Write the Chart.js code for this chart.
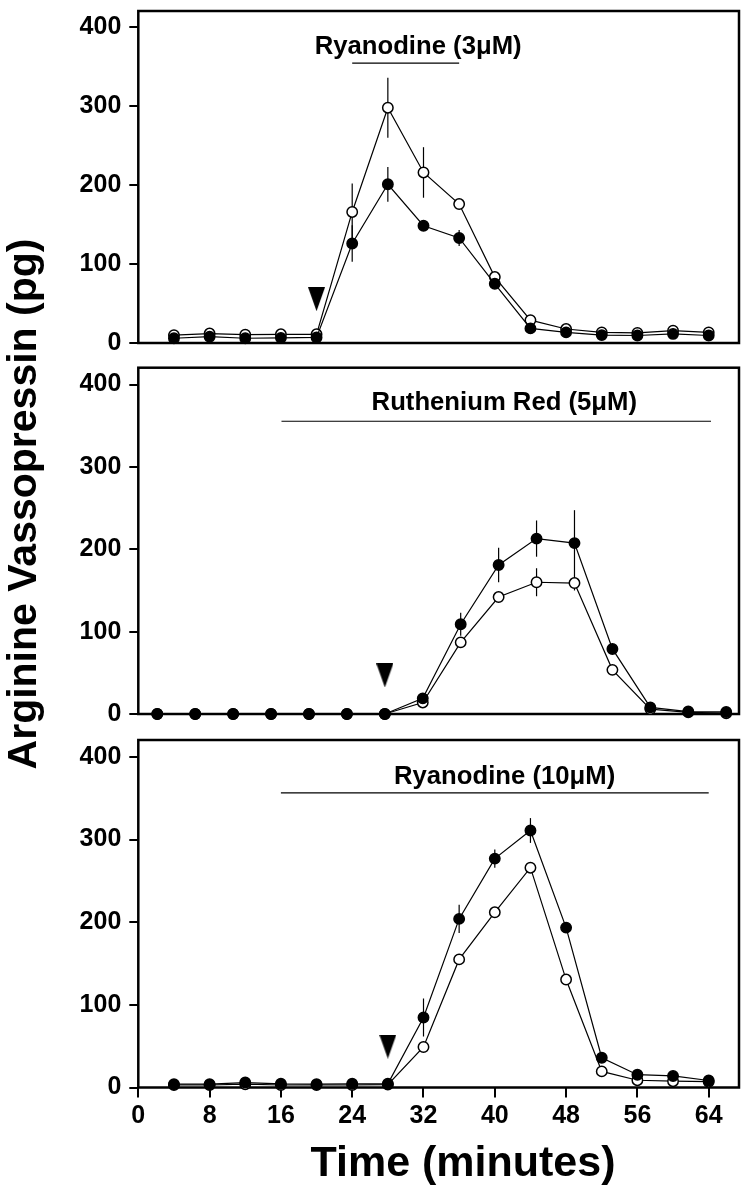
<!DOCTYPE html>
<html>
<head>
<meta charset="utf-8">
<script src="https://cdn.jsdelivr.net/npm/chart.js@4.4.1/dist/chart.umd.min.js"></script>
<style>
html,body{margin:0;padding:0;background:#fff;}
body{width:750px;height:1189px;position:relative;overflow:hidden;font-family:'Liberation Sans',Arial,sans-serif;}
canvas{position:absolute;left:0;}
.ytitle{position:absolute;width:700px;height:42px;line-height:42px;left:-328.1px;top:483px;text-align:center;font-weight:bold;font-size:41px;transform:rotate(-90deg);transform-origin:50% 50%;white-space:nowrap;color:#000;}
.xtitle{position:absolute;left:163px;width:600px;top:1140px;height:43px;line-height:43px;text-align:center;font-weight:bold;font-size:43px;white-space:nowrap;color:#000;}
</style>
</head>
<body>
<canvas id="c1" width="750" height="360" style="top:0px;width:750px;height:360px;"></canvas>
<canvas id="c2" width="750" height="370" style="top:355px;width:750px;height:370px;"></canvas>
<canvas id="c3" width="750" height="464" style="top:725px;width:750px;height:464px;"></canvas>
<div class="ytitle">Arginine Vassopressin (pg)</div>
<div class="xtitle">Time (minutes)</div>
<script>
// ---------- data ----------
const yTicks = [0, 100, 200, 300, 400];
const xTicks = [0, 8, 16, 24, 32, 40, 48, 56, 64];

// Panel 1 : Ryanodine (3 uM)
const times1 = [4, 8, 12, 16, 20, 24, 28, 32, 36, 40, 44, 48, 52, 56, 60, 64];
const closed1 = [6, 8, 6, 6.5, 7, 126, 201, 148.5, 133, 75, 18.5, 13.5, 10, 9.5, 11.5, 9.5];
const open1 = [10, 12, 10.5, 11, 11, 166, 298, 216, 176, 83.5, 29, 17.7, 13.5, 12.7, 15.6, 13.5];
const closedErr1 = [0, 0, 0, 0, 0, 23, 22, 0, 10, 0, 0, 0, 0, 0, 0, 0];
const openErr1 = [0, 0, 0, 0, 0, 36, 38, 32, 0, 0, 0, 0, 0, 0, 0, 0];

// Panel 2 : Ruthenium Red (5 uM)
const times2 = [2, 6, 10, 14, 18, 22, 26, 30, 34, 38, 42, 46, 50, 54, 58, 62];
const closed2 = [0, 0, 0, 0, 0, 0, 0, 19, 109, 181, 213, 207.5, 79, 8, 3, 2.5];
const open2 = [0, 0, 0, 0, 0, 0, 0, 14, 87, 142, 160, 159, 53.6, 6, 2, 1];
const closedErr2 = [0, 0, 0, 0, 0, 0, 0, 0, 14, 21, 22, 40, 0, 0, 0, 0];
const openErr2 = [0, 0, 0, 0, 0, 0, 0, 0, 0, 0, 17, 9, 0, 0, 0, 0];

// Panel 3 : Ryanodine (10 uM)
const times3 = [4, 8, 12, 16, 20, 24, 28, 32, 36, 40, 44, 48, 52, 56, 60, 64];
const closed3 = [4, 4, 6, 4.5, 4, 4.5, 4.5, 84.7, 204, 277, 311, 193.5, 36, 15.5, 14, 8.5];
const open3 = [3, 3, 4, 3, 3, 3, 3.5, 49, 155, 212, 266, 130.6, 19.5, 8.8, 7.6, 7];
const closedErr3 = [0, 0, 0, 0, 0, 0, 0, 23, 17, 11, 15, 0, 0, 0, 0, 0];
const openErr3 = [0, 0, 0, 0, 0, 0, 0, 0, 0, 0, 0, 0, 0, 0, 0, 0];

// Stimulus arrowheads (time, level)
const arrowTimes = [20, 26, 28];
const arrowLevels = [55.5, 46.8, 49.4];

// Treatment bars and labels
const treatLabels = ['Ryanodine (3μM)', 'Ruthenium Red (5μM)', 'Ryanodine (10μM)'];
const treatStart = [24, 15.1, 16];
const treatEnd = [36, 60.4, 64];
const treatLevel = [354.5, 355.5, 356.5];
const labelTimes = [31.4, 38.6, 41.1];
const labelLevels = [365.7, 369.7, 367.8];

// ---------- drawing ----------
const FONT = "'Liberation Sans', Arial, sans-serif";

function makeTriangle() {
  const c = document.createElement('canvas');
  c.width = 17; c.height = 24;
  const g = c.getContext('2d');
  g.fillStyle = '#000';
  g.beginPath(); g.moveTo(0, 0); g.lineTo(17, 0); g.lineTo(8.5, 24); g.closePath(); g.fill();
  return c;
}
const tri = makeTriangle();

const decor = {
  id: 'decor',
  beforeDatasetsDraw(chart) {
    const ctx = chart.ctx, xs = chart.scales.x, ys = chart.scales.y;
    ctx.save();
    ctx.strokeStyle = '#000';
    ctx.lineWidth = 1.2;
    chart.data.datasets.forEach(ds => {
      if (!ds.errorBars) return;
      ds.data.forEach((p, i) => {
        const e = ds.errorBars[i];
        if (!e) return;
        const x = xs.getPixelForValue(p.x);
        ctx.beginPath();
        ctx.moveTo(x, ys.getPixelForValue(p.y + e));
        ctx.lineTo(x, ys.getPixelForValue(p.y - e));
        ctx.stroke();
      });
    });
    const a = chart.chartArea;
    ctx.lineWidth = 2.5;
    ctx.strokeRect(a.left, a.top, a.right - a.left, a.bottom - a.top);
    ctx.restore();
  },
  afterDraw(chart, args, opts) {
    const ctx = chart.ctx, xs = chart.scales.x, ys = chart.scales.y;
    ctx.save();
    ctx.strokeStyle = '#000';
    ctx.lineWidth = 1.1;
    const yb = ys.getPixelForValue(opts.barLevel);
    ctx.beginPath();
    ctx.moveTo(xs.getPixelForValue(opts.barStart), yb);
    ctx.lineTo(xs.getPixelForValue(opts.barEnd), yb);
    ctx.stroke();
    ctx.fillStyle = '#000';
    ctx.font = 'bold 25.7px ' + FONT;
    ctx.textAlign = 'center';
    ctx.textBaseline = 'alphabetic';
    ctx.fillText(opts.label, xs.getPixelForValue(opts.labelTime), ys.getPixelForValue(opts.labelLevel));
    ctx.restore();
  }
};

function pts(t, v) { return t.map((x, i) => ({ x: x, y: v[i] })); }

function makePanel(id, k, cfg) {
  const tickFont = { family: FONT, size: 25, weight: 'bold' };
  new Chart(document.getElementById(id), {
    type: 'line',
    data: {
      datasets: [
        {
          data: pts(cfg.times, cfg.closed), errorBars: cfg.closedErr,
          borderColor: '#000', borderWidth: 1.2, tension: 0, clip: false,
          pointRadius: 5.2, pointBorderWidth: 1.5, pointBackgroundColor: '#000', pointBorderColor: '#000'
        },
        {
          data: pts(cfg.times, cfg.open), errorBars: cfg.openErr,
          borderColor: '#000', borderWidth: 1.2, tension: 0, clip: false,
          pointRadius: 5.2, pointBorderWidth: 1.5, pointBackgroundColor: '#fff', pointBorderColor: '#000'
        },
        {
          data: [{ x: arrowTimes[k], y: arrowLevels[k] }],
          showLine: false, clip: false, pointStyle: tri, pointRadius: 10
        }
      ]
    },
    options: {
      responsive: false, animation: false, events: [],
      layout: { padding: { left: 0, right: 8.5, top: cfg.padTop, bottom: cfg.padBottom } },
      plugins: {
        legend: { display: false }, tooltip: { enabled: false },
        decor: {
          label: treatLabels[k], barStart: treatStart[k], barEnd: treatEnd[k], barLevel: treatLevel[k],
          labelTime: labelTimes[k], labelLevel: labelLevels[k]
        }
      },
      scales: {
        x: {
          type: 'linear', min: 0, max: cfg.xMax, display: cfg.showX,
          afterBuildTicks: s => { s.ticks = xTicks.map(v => ({ value: v })); },
          afterFit: s => { s.height = cfg.showX ? 101.5 : 0; s.paddingLeft = 0; s.paddingRight = 0; },
          grid: { drawOnChartArea: false, drawTicks: true, tickLength: 10, color: '#000', lineWidth: 2 },
          border: { display: false },
          ticks: { font: tickFont, color: '#000', padding: 4, maxRotation: 0, autoSkip: false }
        },
        y: {
          type: 'linear', min: 0, max: 420.5,
          afterBuildTicks: s => { s.ticks = yTicks.map(v => ({ value: v })); },
          afterFit: s => { s.width = 138.3; s.paddingTop = 0; s.paddingBottom = 0; },
          grid: { drawOnChartArea: false, drawTicks: true, tickLength: 9, color: '#000', lineWidth: 2 },
          border: { display: false },
          ticks: { font: tickFont, color: '#000', padding: 8 }
        }
      }
    },
    plugins: [decor]
  });
}

makePanel('c1', 0, { times: times1, closed: closed1, open: open1, closedErr: closedErr1, openErr: openErr1, xMax: 67.4, showX: false, padTop: 3.7, padBottom: 17 });
makePanel('c2', 1, { times: times2, closed: closed2, open: open2, closedErr: closedErr2, openErr: openErr2, xMax: 63.35, showX: false, padTop: 12.7, padBottom: 10 });
makePanel('c3', 2, { times: times3, closed: closed3, open: open3, closedErr: closedErr3, openErr: openErr3, xMax: 67.4, showX: true, padTop: 15, padBottom: 0 });
</script>
</body>
</html>
